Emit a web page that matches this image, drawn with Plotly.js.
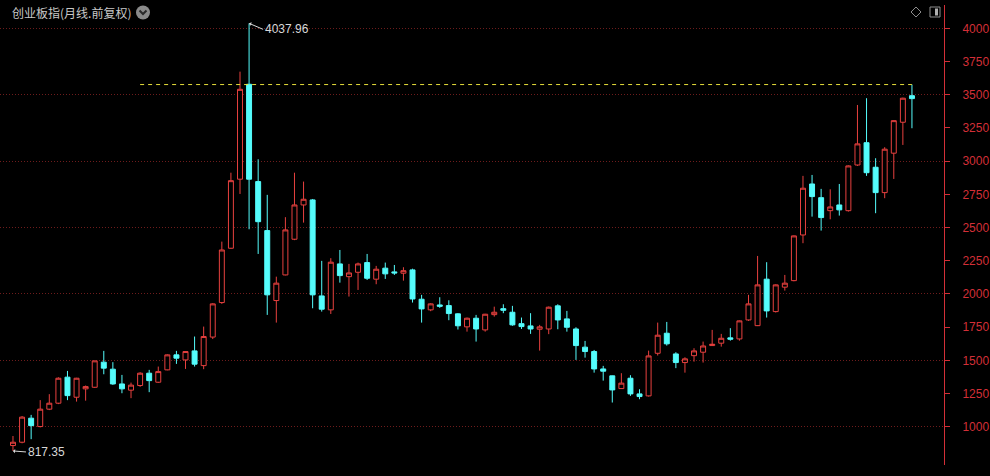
<!DOCTYPE html>
<html><head><meta charset="utf-8">
<script src="https://cdn.plot.ly/plotly-3.0.1.min.js"></script>
<style>html,body{margin:0;padding:0;background:#000;}#chart{width:990px;height:476px;}</style>
</head><body><div id="chart"></div>
<script>
// Monthly candles, 2013-04 .. 2021-07
const months = [
  "2013-04","2013-05","2013-06","2013-07","2013-08","2013-09","2013-10","2013-11","2013-12",
  "2014-01","2014-02","2014-03","2014-04","2014-05","2014-06","2014-07","2014-08","2014-09","2014-10","2014-11","2014-12",
  "2015-01","2015-02","2015-03","2015-04","2015-05","2015-06","2015-07","2015-08","2015-09","2015-10","2015-11","2015-12",
  "2016-01","2016-02","2016-03","2016-04","2016-05","2016-06","2016-07","2016-08","2016-09","2016-10","2016-11","2016-12",
  "2017-01","2017-02","2017-03","2017-04","2017-05","2017-06","2017-07","2017-08","2017-09","2017-10","2017-11","2017-12",
  "2018-01","2018-02","2018-03","2018-04","2018-05","2018-06","2018-07","2018-08","2018-09","2018-10","2018-11","2018-12",
  "2019-01","2019-02","2019-03","2019-04","2019-05","2019-06","2019-07","2019-08","2019-09","2019-10","2019-11","2019-12",
  "2020-01","2020-02","2020-03","2020-04","2020-05","2020-06","2020-07","2020-08","2020-09","2020-10","2020-11","2020-12",
  "2021-01","2021-02","2021-03","2021-04","2021-05","2021-06","2021-07"
];
const openV = [
  858,883,1064,1001,1132,1177,1373,1222,1285,
  1297,1486,1433,1322,1275,1310,1403,1335,1428,1541,1503,1571,
  1460,1675,1935,2344,2864,3579,2846,2477,1950,2143,2412,2670,
  2708,1985,1880,2226,2130,2163,2236,2111,2194,2166,2156,2181,
  1960,1880,1917,1912,1850,1752,1817,1729,1844,1889,1862,1776,
  1759,1734,1736,1910,1812,1736,1599,1566,1435,1383,1287,1365,
  1247,1232,1553,1704,1548,1483,1535,1561,1611,1629,1669,1661,
  1804,1761,2111,1867,2051,2100,2444,2828,2725,2627,2670,2627,
  2971,3139,2954,2763,3060,3293,3493
];
const highV = [
  930,1080,1089,1200,1245,1372,1420,1368,1310,
  1496,1571,1486,1390,1332,1410,1428,1453,1545,1571,1570,1679,
  1754,1930,2394,2913,3674,4037.96,3014,2746,2130,2578,2913,2846,
  2715,2249,2269,2331,2226,2236,2301,2211,2236,2218,2201,2190,
  1993,1930,1975,1952,1855,1822,1842,1850,1904,1922,1910,1822,
  1855,1767,1905,1922,1872,1749,1646,1578,1458,1385,1403,1388,
  1282,1573,1784,1789,1561,1523,1591,1641,1729,1699,1742,1800,
  1993,2286,2239,2072,2143,2440,2889,2896,2791,2788,2828,2968,
  3423,3474,3022,3105,3308,3478,3576.9
];
const lowV = [
  817.35,875,906,995,1125,1170,1200,1189,1196,
  1292,1395,1315,1252,1215,1300,1260,1330,1425,1473,1435,1453,
  1433,1660,1925,2340,2753,2487,2301,1842,1784,2140,2405,2537,
  1892,1867,1849,2085,1980,2030,2105,2073,2113,2143,2100,1935,
  1784,1870,1895,1802,1732,1716,1641,1716,1829,1855,1760,1736,
  1699,1573,1697,1734,1716,1503,1520,1407,1347,1182,1285,1232,
  1207,1227,1536,1611,1441,1407,1490,1483,1608,1603,1648,1648,
  1797,1758,1822,1860,2025,2095,2382,2582,2477,2562,2590,2620,
  2964,2889,2608,2721,2866,3122,3248
];
const closeV = [
  883,1072,1008,1132,1177,1365,1234,1365,1302,
  1496,1441,1322,1285,1313,1403,1347,1415,1541,1516,1566,1471,
  1679,1925,2331,2853,3541,2864,2544,1993,2081,2482,2670,2713,
  1993,1885,2239,2138,2158,2226,2118,2186,2151,2158,2175,1962,
  1887,1925,1907,1852,1760,1817,1736,1847,1862,1877,1767,1754,
  1736,1752,1900,1804,1749,1611,1566,1435,1418,1277,1328,1247,
  1227,1533,1689,1624,1483,1511,1571,1608,1621,1666,1659,1797,
  1925,2068,1872,2068,2081,2437,2796,2733,2575,2655,2633,2964,
  3130,2913,2763,3090,3305,3474,3471
];
const yTicks = [1000,1250,1500,1750,2000,2250,2500,2750,3000,3250,3500,3750,4000];
const gridTicks = [1000,1500,2000,2500,3000,3500,4000];
const titleText = "创业板指(月线.前复权)";
const lineStartIdx = 14; // dashed yellow line begins here

// helpers
const maxIdx = highV.indexOf(Math.max(...highV));
const minIdx = lowV.indexOf(Math.min(...lowV));
const lastIdx = months.length - 1;

const RED = "#e8413f", CYAN = "#54fcfc", AXRED = "#d32f37";

const traces = [
  {
    type: "candlestick",
    x: months, open: openV, high: highV, low: lowV, close: closeV,
    increasing: {line: {color: RED, width: 1}, fillcolor: "#000000"},
    decreasing: {line: {color: CYAN, width: 1}, fillcolor: CYAN},
    whiskerwidth: 0,
    hoverinfo: "skip",
    showlegend: false
  },
  {
    type: "scatter", mode: "lines",
    x: [months[lineStartIdx], months[lastIdx]],
    y: [highV[lastIdx], highV[lastIdx]],
    line: {color: "#e6de3a", width: 1, dash: "4px,4px"},
    hoverinfo: "skip", showlegend: false
  },
  {
    type: "scatter", mode: "markers",
    x: [months[0]], y: [gridTicks[0]], yaxis: "y2",
    marker: {opacity: 0}, hoverinfo: "skip", showlegend: false
  }
];

const W = 990, H = 476, L = 0, R = 46, T = 5, B = 11;
const pw = W - L - R, ph = H - T - B;
const px = v => (v - L) / pw;
const py = v => 1 - (v - T) / ph;

const layout = {
  width: W, height: H,
  margin: {l: L, r: R, t: T, b: B},
  paper_bgcolor: "#000000", plot_bgcolor: "#000000",
  showlegend: false,
  boxgap: 0.22,
  xaxis: {
    type: "category", range: [-1.43, 102.53],
    showgrid: false, zeroline: false, showticklabels: false, ticks: "",
    showline: false, rangeslider: {visible: false}, fixedrange: true
  },
  yaxis: {
    side: "right", range: [711.5, 4176],
    tickvals: yTicks, ticktext: yTicks.map(String),
    tickfont: {family: "Liberation Sans, Arial, sans-serif", size: 12, color: AXRED},
    ticks: "outside", ticklen: 5, tickcolor: AXRED, tickwidth: 1,
    ticklabelstandoff: 10,
    showline: true, linecolor: AXRED, linewidth: 1,
    showgrid: false, zeroline: false, fixedrange: true
  },
  yaxis2: {
    overlaying: "y", side: "right", range: [711.5, 4176],
    tickvals: gridTicks, showticklabels: false, ticks: "",
    showgrid: true, gridcolor: "#6e1c1c", gridwidth: 1, griddash: "1px,2px",
    showline: false, zeroline: false, fixedrange: true
  },
  shapes: [
    {type: "circle", xref: "paper", yref: "paper",
     x0: px(136), x1: px(150), y0: py(19.5), y1: py(5.5),
     fillcolor: "#8a8a8a", line: {width: 0}},
    {type: "path", xref: "paper", yref: "paper",
     path: `M ${px(139.5)},${py(10.5)} L ${px(143)},${py(14)} L ${px(146.5)},${py(10.5)}`,
     line: {color: "#2a2a2a", width: 2}},
    {type: "path", xref: "paper", yref: "paper",
     path: `M ${px(916)},${py(7)} L ${px(921)},${py(12)} L ${px(916)},${py(17)} L ${px(911)},${py(12)} Z`,
     line: {color: "#8c8c8c", width: 1}},
    {type: "rect", xref: "paper", yref: "paper",
     x0: px(930), x1: px(940), y0: py(17), y1: py(7),
     line: {color: "#8c8c8c", width: 1}},
    {type: "rect", xref: "paper", yref: "paper",
     x0: px(935), x1: px(938), y0: py(15.5), y1: py(8.5),
     fillcolor: "#b0b0b0", line: {width: 0}}
  ],
  annotations: [
    {xref: "paper", yref: "paper", x: px(10), y: py(12), xanchor: "left", yanchor: "middle",
     text: titleText, showarrow: false,
     font: {family: "Noto Sans CJK SC, sans-serif", size: 12, color: "#c8c8c8"}},
    {x: months[maxIdx], y: highV[maxIdx], xref: "x", yref: "y",
     text: highV[maxIdx].toFixed(2), showarrow: true, arrowhead: 1, arrowsize: 0.7,
     arrowwidth: 1, arrowcolor: "#d8d8d8", ax: 14, ay: 6, xanchor: "left", yanchor: "middle",
     font: {family: "Liberation Sans, Arial, sans-serif", size: 12, color: "#d8d8d8"}},
    {x: months[minIdx], y: lowV[minIdx], xref: "x", yref: "y",
     text: lowV[minIdx].toFixed(2), showarrow: true, arrowhead: 1, arrowsize: 0.7,
     arrowwidth: 1, arrowcolor: "#d8d8d8", ax: 13, ay: 1, xanchor: "left", yanchor: "middle",
     font: {family: "Liberation Sans, Arial, sans-serif", size: 12, color: "#d8d8d8"}}
  ],
  hovermode: false
};

Plotly.newPlot("chart", traces, layout, {displayModeBar: false, staticPlot: true});
</script>
</body></html>
